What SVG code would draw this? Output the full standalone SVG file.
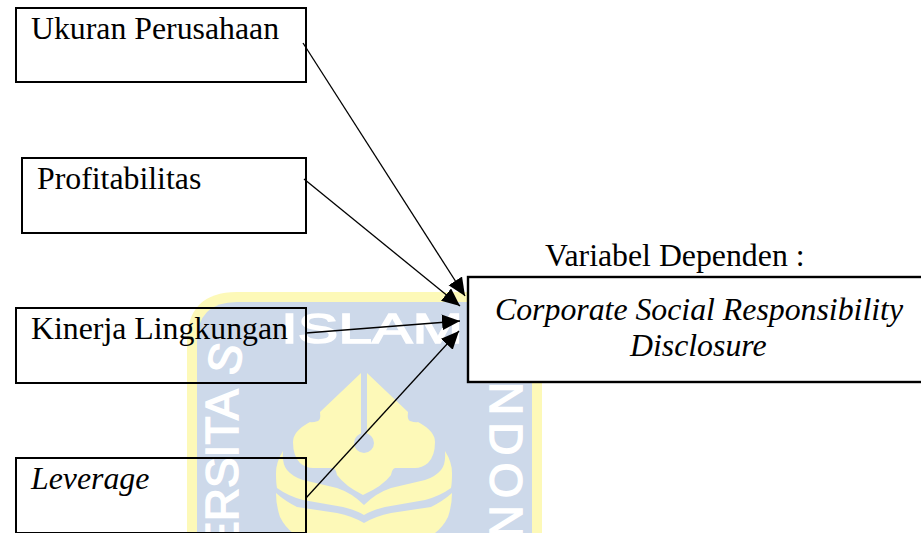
<svg xmlns="http://www.w3.org/2000/svg" width="921" height="533" viewBox="0 0 921 533">
<style>
.b{fill:none;stroke:#000;stroke-width:2}
.t{font-family:"Liberation Serif","Times New Roman",serif;font-size:31.8px;fill:#000}
.i{font-style:italic}
.w{font-family:"Liberation Sans",Arial,sans-serif;fill:#fff;stroke:#fff;stroke-width:1.5}
.c{fill:none;stroke:#000;stroke-width:1.3}
.y{fill:#fdf9b8}
.s{fill:#cdd9ea}
</style>
<defs>
<marker id="a" markerUnits="userSpaceOnUse" markerWidth="20" markerHeight="18" refX="18" refY="8" orient="auto">
<path d="M0 0L18 8L0 16Z" fill="#000"/>
</marker>
<path id="arcL" d="M238 552V386Q238 360 250 335"/>
</defs>
<rect width="921" height="533" fill="#fff"/>
<g id="watermark">
<path class="y" d="M187 533V342Q187 292 237 292H492Q542 292 542 342V533Z"/>
<path class="s" d="M197 533V342Q197 302 237 302H492Q532 302 532 342V533Z"/>
<path class="y" d="M361 373L320 412Q321 420 318 421Q312 423 310 422Q293 431 293 442Q293 456 300 463Q306 468 313 468H333Q336 469 337 475Q345 486 363 495Q383 486 391 475Q392 469 395 468H415Q422 468 428 463Q435 456 435 442Q435 431 418 422Q416 423 410 421Q407 420 408 412L367 373Z"/>
<path class="y" d="M283 451Q282 464 287 470Q293 477 303 480L337 488Q352 493 364 505Q376 493 391 488L425 480Q435 477 441 470Q446 464 445 451Q452 462 452 473Q452 483 451 488Q440 496 425 500L385 507Q372 510 364 515Q356 510 343 507L303 500Q288 496 277 488Q276 483 276 473Q276 462 283 451Z"/>
<path class="y" d="M276 493Q285 501 297 507L337 513Q352 516 364 523Q376 516 391 513L431 507Q443 501 452 493Q452 505 448 517Q443 527 435 533H293Q285 527 280 517Q276 505 276 493Z"/>
<rect class="s" x="361" y="372" width="6" height="70"/>
<circle class="s" cx="364" cy="443" r="10"/>
<text class="w" x="281" y="343" font-size="43" textLength="182" lengthAdjust="spacingAndGlyphs">ISLAM</text>
<text class="w" font-size="46"><textPath href="#arcL">ERSITA<tspan dx="12">S</tspan></textPath></text>
<text class="w" transform="translate(490,382) rotate(90)" font-size="46" letter-spacing="7">NDON</text>
</g>
<g id="connectors">
<path class="c" marker-end="url(#a)" d="M303 43L465 296"/>
<path class="c" marker-end="url(#a)" d="M304 179L460 306"/>
<path class="c" marker-end="url(#a)" d="M306 333L460 321"/>
<path class="c" marker-end="url(#a)" d="M306 498L459 331"/>
</g>
<g id="node-ukuran"><rect class="b" x="16" y="8" width="290" height="74"/><text class="t" x="31" y="39">Ukuran Perusahaan</text></g>
<g id="node-profitabilitas"><rect class="b" x="22" y="158" width="284" height="75"/><text class="t" x="37" y="189">Profitabilitas</text></g>
<g id="node-kinerja"><rect class="b" x="16" y="308" width="290" height="75"/><text class="t" x="31" y="339">Kinerja Lingkungan</text></g>
<g id="node-leverage"><rect class="b" x="16" y="458" width="290" height="75"/><text class="t i" x="31" y="489">Leverage</text></g>
<g id="node-dependen">
<text class="t" x="545" y="266">Variabel Dependen :</text>
<rect x="468" y="277" width="460" height="105" fill="#fff" stroke="#000" stroke-width="2.4"/>
<text class="t i" x="495" y="320">Corporate Social Responsibility</text>
<text class="t i" x="630" y="356">Disclosure</text>
</g>
</svg>
